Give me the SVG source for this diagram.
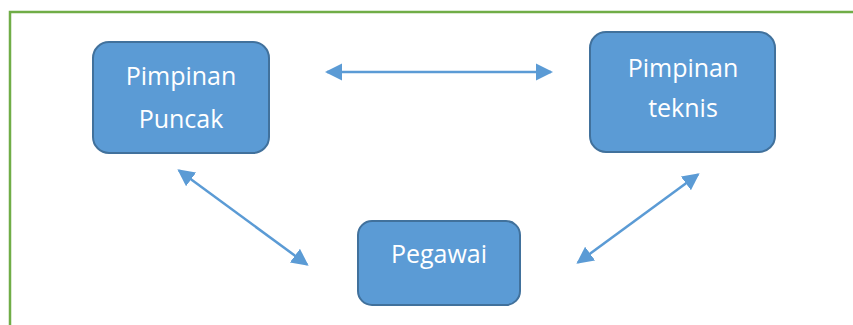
<svg xmlns="http://www.w3.org/2000/svg" width="853" height="325" viewBox="0 0 853 325">
  <style>
    .box { fill: #5B9BD5; stroke: #41719C; stroke-width: 2; }
    .lbl { font-family: "Open Sans", "Noto Sans", sans-serif; font-size: 25px; fill: #FFFFFF; text-anchor: middle; }
    .conn { stroke: #5B9BD5; stroke-width: 2.5; fill: none; marker-start: url(#ah); marker-end: url(#ah); }
  </style>
  <defs>
    <marker id="ah" markerUnits="userSpaceOnUse" markerWidth="18" markerHeight="18" refX="15" refY="8.5" orient="auto-start-reverse" viewBox="0 0 18 17">
      <path d="M0,0 L17,8.5 L0,17 Z" fill="#5B9BD5"/>
    </marker>
  </defs>
  <rect x="0" y="0" width="853" height="325" fill="#FFFFFF"/>
  <rect id="frame" x="10" y="12" width="860" height="330" fill="none" stroke="#70AD47" stroke-width="2.5"/>
  <g id="connectors">
    <line class="conn" x1="327" y1="72" x2="551" y2="72"/>
    <line class="conn" x1="179" y1="170.5" x2="307" y2="264.5"/>
    <line class="conn" x1="578" y1="262.5" x2="698" y2="174.5"/>
  </g>
  <g id="pimpinan-puncak">
    <rect class="box" x="93" y="42" width="176" height="111" rx="16" ry="16"/>
    <text class="lbl" x="181" y="85">Pimpinan</text>
    <text class="lbl" x="181" y="128">Puncak</text>
  </g>
  <g id="pimpinan-teknis">
    <rect class="box" x="590" y="32" width="185" height="120" rx="16" ry="16"/>
    <text class="lbl" x="683" y="77">Pimpinan</text>
    <text class="lbl" x="683" y="117">teknis</text>
  </g>
  <g id="pegawai">
    <rect class="box" x="358" y="221" width="162" height="84" rx="14" ry="14"/>
    <text class="lbl" x="439" y="263">Pegawai</text>
  </g>
</svg>
